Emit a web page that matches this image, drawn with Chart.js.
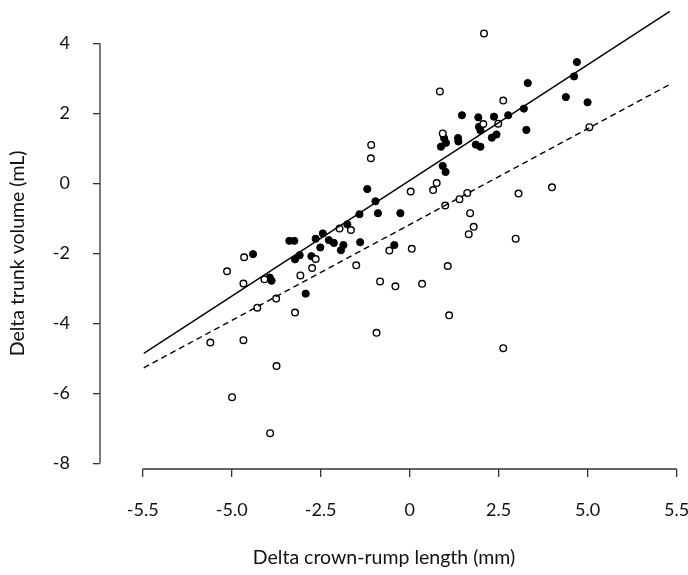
<!DOCTYPE html>
<html>
<head>
<meta charset="utf-8">
<script src="https://cdn.jsdelivr.net/npm/chart.js"></script>
<style>
    body { margin: 0; background: #fff; }
    #chart-box { width: 688px; height: 575px; }
</style>
</head>
<body>
<div id="chart-box">
    <canvas id="myChart" width="688" height="575"></canvas>
</div>
<script>
// filled points
const filledX = [-1.19, -0.96, -1.41, -0.89, -0.26, 4.70, 4.62, 3.32, 4.39, 5.00, 3.21, 1.47, 1.93, 2.37, 2.77, 1.95,
    1.99, 3.28, 0.97, 1.36, 1.37, 0.88, 1.02, 1.86, 1.99, 2.31, 2.44, 0.93, 1.01, -1.75, -3.38, -3.24, -2.44, -2.64,
    -2.27, -2.13, -1.86, -1.93, -2.51, -1.39, -3.22, -3.09, -2.76, -4.40, -3.93, -3.88, -2.92, -0.43];
const filledY = [-0.16, -0.51, -0.88, -0.85, -0.85, 3.47, 3.06, 2.87, 2.47, 2.32, 2.14, 1.95, 1.89, 1.91, 1.95, 1.62,
    1.52, 1.53, 1.29, 1.30, 1.20, 1.05, 1.16, 1.11, 1.05, 1.31, 1.40, 0.50, 0.33, -1.17, -1.64, -1.64, -1.43, -1.58,
    -1.62, -1.70, -1.76, -1.91, -1.83, -1.68, -2.17, -2.05, -2.08, -2.02, -2.69, -2.78, -3.15, -1.76];

// open points
const openX = [-1.08, -1.09, 0.03, 2.09, 0.85, 2.63, 2.07, 2.49, 0.93, 0.76, 0.66, 1.62, 1.40, 1.00, 3.06, 4.00,
    5.05, 1.70, 1.80, 1.66, 2.98, 0.06, 1.07, 0.35, 1.11, 2.63, -1.97, -1.65, -2.64, -4.65, -5.13, -4.67, -4.08,
    -3.07, -2.74, -3.75, -4.28, -3.22, -1.50, -0.83, -0.40, -0.57, -0.93, -5.60, -4.67, -3.74, -4.99, -3.92];
const openY = [1.10, 0.72, -0.23, 4.29, 2.63, 2.37, 1.70, 1.71, 1.43, 0.01, -0.19, -0.27, -0.45, -0.63, -0.29, -0.11,
    1.61, -0.85, -1.24, -1.45, -1.58, -1.87, -2.36, -2.87, -3.77, -4.71, -1.29, -1.33, -2.16, -2.11, -2.51, -2.86, -2.74,
    -2.63, -2.42, -3.29, -3.55, -3.69, -2.34, -2.80, -2.94, -1.92, -4.27, -4.55, -4.48, -5.22, -6.11, -7.14];

// fitted lines, read from the end points
const fitX = [-7.47, 7.31];
const solidFitY = [-4.86, 4.92];
const dashedFitY = [-5.27, 2.83];

// ticks (x labels as printed on the original axis)
const xTickValues = [-7.5, -5, -2.5, 0, 2.5, 5, 7.5];
const xTickLabels = ['-5.5', '-5.0', '-2.5', '0', '2.5', '5.0', '5.5'];
const yTickValues = [-8, -6, -4, -2, 0, 2, 4];

const xTitle = 'Delta crown-rump length (mm)';
const yTitle = 'Delta trunk volume (mL)';

function toPoints(xs, ys) {
    return xs.map((x, i) => ({ x: x, y: ys[i] }));
}

// keep chart.js from reserving room for the end labels
function noScalePadding(scale) {
    scale.paddingLeft = 0;
    scale.paddingRight = 0;
    scale.paddingTop = 0;
    scale.paddingBottom = 0;
}

const fontFamily = 'Lato, "Open Sans", sans-serif';
const axisColor = '#333';

// R style axes: line only from first to last tick, titles placed by hand
const rAxes = {
    id: 'rAxes',
    afterDraw(chart) {
        let ctx = chart.ctx;
        let xs = chart.scales.x;
        let ys = chart.scales.y;
        let area = chart.chartArea;
        ctx.save();
        ctx.strokeStyle = axisColor;
        ctx.lineWidth = 1.3;
        ctx.beginPath();
        ctx.moveTo(xs.getPixelForValue(xTickValues[0]), area.bottom);
        ctx.lineTo(xs.getPixelForValue(xTickValues[xTickValues.length - 1]), area.bottom);
        ctx.moveTo(area.left, ys.getPixelForValue(yTickValues[0]));
        ctx.lineTo(area.left, ys.getPixelForValue(yTickValues[yTickValues.length - 1]));
        ctx.stroke();

        ctx.fillStyle = '#111';
        ctx.font = '19.5px ' + fontFamily;
        ctx.textAlign = 'center';
        ctx.textBaseline = 'middle';
        ctx.fillText(xTitle, 384, 558);
        ctx.translate(18, (ys.getPixelForValue(yTickValues[0]) + ys.getPixelForValue(yTickValues[yTickValues.length - 1])) / 2);
        ctx.rotate(-Math.PI / 2);
        ctx.fillText(yTitle, 0, 0);
        ctx.restore();
    }
};

var ctx = document.getElementById('myChart').getContext('2d');
var myChart = new Chart(ctx, {
    type: 'scatter',
    data: {
        datasets: [{
            label: 'fit solid',
            data: toPoints(fitX, solidFitY),
            showLine: true,
            borderColor: '#000',
            borderWidth: 1.4,
            pointRadius: 0,
            order: 0
        }, {
            label: 'fit dashed',
            data: toPoints(fitX, dashedFitY),
            showLine: true,
            borderColor: '#000',
            borderWidth: 1.4,
            borderDash: [6, 4],
            pointRadius: 0,
            order: 0
        }, {
            label: 'open',
            data: toPoints(openX, openY),
            backgroundColor: '#fff',
            borderColor: '#000',
            borderWidth: 1.4,
            pointRadius: 3.3,
            order: 1
        }, {
            label: 'filled',
            data: toPoints(filledX, filledY),
            backgroundColor: '#000',
            borderColor: '#000',
            borderWidth: 1,
            pointRadius: 3.6,
            order: 2
        }]
    },
    options: {
        responsive: false,
        animation: false,
        events: [],
        layout: { padding: { top: 5, right: 4, left: 0, bottom: 0 } },
        plugins: {
            legend: { display: false },
            tooltip: { enabled: false }
        },
        scales: {
            x: {
                type: 'linear',
                min: -8.70,
                max: 7.67,
                afterBuildTicks: scale => { scale.ticks = xTickValues.map(v => ({ value: v })); },
                afterFit: scale => { scale.height = 106; noScalePadding(scale); },
                grid: { drawOnChartArea: false, drawTicks: true, tickLength: 8, color: axisColor, lineWidth: 1.3 },
                border: { display: false },
                ticks: {
                    padding: 22,
                    color: '#111',
                    font: { family: fontFamily, size: 18 },
                    maxRotation: 0,
                    autoSkip: false,
                    callback: (value, index) => xTickLabels[index]
                }
            },
            y: {
                type: 'linear',
                min: -8.163,
                max: 5.09,
                afterBuildTicks: scale => { scale.ticks = yTickValues.map(v => ({ value: v })); },
                afterFit: scale => { scale.width = 100; noScalePadding(scale); },
                grid: { drawOnChartArea: false, drawTicks: true, tickLength: 7, color: axisColor, lineWidth: 1.3 },
                border: { display: false },
                ticks: {
                    padding: 23,
                    color: '#111',
                    font: { family: fontFamily, size: 18 },
                    autoSkip: false,
                    callback: value => String(value)
                }
            }
        }
    },
    plugins: [rAxes]
});
</script>
</body>
</html>
